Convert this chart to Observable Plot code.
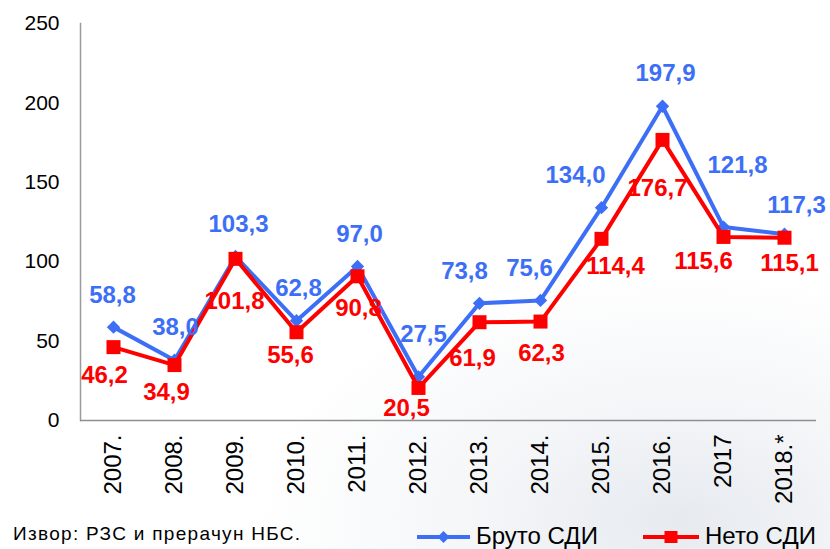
<!DOCTYPE html>
<html>
<head>
<meta charset="utf-8">
<script src="https://cdn.jsdelivr.net/npm/d3@7"></script>
<script src="https://cdn.jsdelivr.net/npm/@observablehq/plot@0.6"></script>
<style>
  html, body { margin: 0; padding: 0; background: #ffffff; }
  #wrap { position: relative; width: 830px; height: 549px; overflow: hidden;
    font-family: Arial, "Liberation Sans", sans-serif; color: #000;
    background:
      radial-gradient(ellipse 430px 250px at 680px 520px, rgba(226,230,236,0.85) 0%, rgba(236,239,243,0.6) 45%, rgba(255,255,255,0) 100%),
      #ffffff; }
  #chart { position: relative; }
  #source { position: absolute; left: 13px; top: 523px; font-size: 19px; line-height: 22px; letter-spacing: 1.3px; }
  .leg { position: absolute; top: 521px; height: 30px; display: flex; align-items: center; font-size: 24px; line-height: 28px; }
  .leg svg { margin-right: 6px; position: relative; top: 1px; }
</style>
</head>
<body>
<div id="wrap">
  <div id="chart"></div>
  <div id="source">Извор: РЗС и прерачун НБС.</div>
  <div class="leg" style="left:417px">
    <svg width="53" height="16"><line x1="0" y1="8" x2="53" y2="8" stroke="#3d6ff6" stroke-width="4"/><path d="M26.5,2 L32.5,8 L26.5,14 L20.5,8 Z" fill="#3d6ff6"/></svg><span>Бруто СДИ</span>
  </div>
  <div class="leg" style="left:643px">
    <svg width="56" height="16"><line x1="0" y1="8" x2="56" y2="8" stroke="#ff0000" stroke-width="4"/><rect x="21.5" y="2" width="13" height="12" fill="#ff0000"/></svg><span>Нето СДИ</span>
  </div>
</div>
<script>
// ---- data ----
const years = ["2007","2008","2009","2010","2011","2012","2013","2014","2015","2016","2017","2018"];
const xLabels = ["2007.","2008.","2009.","2010.","2011.","2012.","2013.","2014.","2015.","2016.","2017","2018.*"];
const bruto = [58.8, 38.0, 103.3, 62.8, 97.0, 27.5, 73.8, 75.6, 134.0, 197.9, 121.8, 117.3];
const neto  = [46.2, 34.9, 101.8, 55.6, 90.8, 20.5, 61.9, 62.3, 114.4, 176.7, 115.6, 115.1];
const yTicks = [0, 50, 100, 150, 200, 250];

// ---- layout tweaks for value labels (dx, dy in px) ----
const brutoNudge = [[-1,-32],[1,-33],[3,-32],[2,-32],[2,-32],[5,-43],[-15,-32],[-11,-32],[-26,-32],[3,-33],[14,-62],[12,-29]];
const netoNudge  = [[-9,28],[-8,27],[-1,42],[-6,23],[1,32],[-12,20],[-7,36],[1,32],[14,27],[-5,48],[-20,24],[5,26]];

const BLUE = "#3d6ff6", RED = "#ff0000";
const rows = years.map((y, i) => ({year: y, bruto: bruto[i], neto: neto[i]}));
const fmt = v => v.toFixed(1).replace(".", ",");

const labelMarks = [];
rows.forEach((d, i) => {
  labelMarks.push(Plot.text([d], {x: "year", y: "bruto", text: r => fmt(r.bruto), fill: BLUE,
    fontSize: 24, fontWeight: "bold", dx: brutoNudge[i][0], dy: brutoNudge[i][1]}));
  labelMarks.push(Plot.text([d], {x: "year", y: "neto", text: r => fmt(r.neto), fill: RED,
    fontSize: 24, fontWeight: "bold", dx: netoNudge[i][0], dy: netoNudge[i][1]}));
});

const chart = Plot.plot({
  width: 830,
  height: 505,
  marginTop: 23,
  marginBottom: 85,
  marginLeft: 80,
  marginRight: 14,
  style: {fontFamily: "Arial, 'Liberation Sans', sans-serif", background: "transparent", color: "#000", overflow: "visible"},
  x: {type: "point", domain: years, padding: 0.5},
  y: {domain: [0, 250]},
  marks: [
    Plot.frame({anchor: "left", stroke: "#9a9a9a", strokeWidth: 1.5}),
    Plot.ruleY([0], {stroke: "#8f8f8f", strokeWidth: 1.5}),
    Plot.axisY({ticks: yTicks, tickSize: 0, tickPadding: 21, fontSize: 21, label: null}),
    Plot.axisX({tickRotate: -90, tickSize: 0, tickPadding: 14, fontSize: 24, label: null,
      tickFormat: d => xLabels[years.indexOf(d)]}),
    Plot.line(rows, {x: "year", y: "bruto", stroke: BLUE, strokeWidth: 4}),
    Plot.dot(rows, {x: "year", y: "bruto", symbol: "diamond2", r: 6, fill: BLUE, stroke: null}),
    Plot.line(rows, {x: "year", y: "neto", stroke: RED, strokeWidth: 4}),
    Plot.dot(rows, {x: "year", y: "neto", symbol: "square", r: 7.9, fill: RED, stroke: null}),
    ...labelMarks
  ]
});
document.getElementById("chart").appendChild(chart);
</script>
</body>
</html>
